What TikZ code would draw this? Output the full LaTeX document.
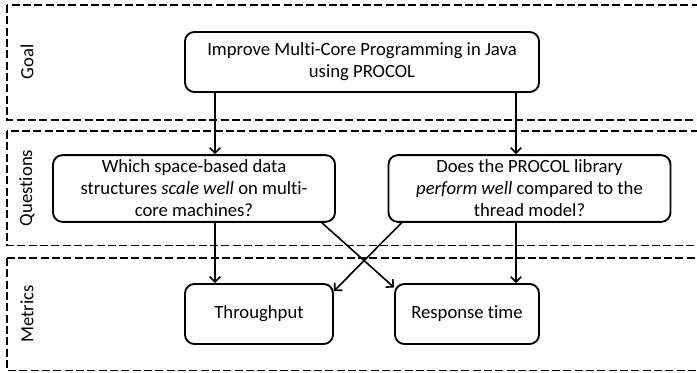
\documentclass[tikz,border=0pt]{standalone}
\usepackage{fontspec}
\setmainfont[Ligatures=NoCommon]{Carlito}
\usetikzlibrary{arrows.meta,positioning,calc}

\begin{document}
\begin{tikzpicture}[
  x=0.75pt,y=-0.75pt,
  every node/.style={font=\fontsize{14}{16.5}\selectfont},
  band/.style={draw,dashed,dash pattern=on 6pt off 2.5pt,line width=1.4pt},
  bandlabel/.style={rotate=90,anchor=center},
  gqmbox/.style={draw,rounded corners=7pt,line width=1.4pt,align=center,inner sep=3pt},
  arr/.style={-{Straight Barb[length=4pt,width=8pt]},line width=1.2pt},
]
  \clip (0,0) rectangle (697,373);

  % Bands
  \draw[band] (7,5) rectangle (720,120);
  \draw[band] (7,131) rectangle (720,245.5);
  \draw[band] (7,258) rectangle (720,370.5);
  \node[bandlabel] (goallbl) at (27,62) {Goal};
  \node[bandlabel] (qlbl) at (27,188) {Questions};
  \node[bandlabel] (mlbl) at (27,314) {Metrics};

  % Goal
  \node[gqmbox,minimum width=265.5pt,minimum height=45pt] (goal) at (362,62)
    {Improve Multi-Core Programming in Java\\using PROCOL};

  % Questions
  \node[gqmbox,minimum width=211.5pt,minimum height=50pt] (q1) at (194,188.5)
    {Which space-based data\\structures \emph{scale well} on multi-\\core machines?};
  \node[gqmbox,minimum width=211.5pt,minimum height=50pt] (q2) at (529.5,188.5)
    {Does the PROCOL library\\\emph{perform well} compared to the\\thread model?};

  % Metrics
  \node[gqmbox,minimum width=111pt,minimum height=45pt] (tp) at (259,314) {Throughput};
  \node[gqmbox,minimum width=108pt,minimum height=45pt] (rt) at (467,314) {Response time};

  % Arrows
  \coordinate (lx) at (215,0);
  \coordinate (rx) at (516,0);
  \draw[arr] (goal.south -| lx) -- (q1.north -| lx);
  \draw[arr] (goal.south -| rx) -- (q2.north -| rx);
  \draw[arr] (q1.south -| lx) -- (tp.north -| lx);
  \draw[arr] (q2.south -| rx) -- (rt.north -| rx);
  \draw[arr] (q1.-15) -- (rt.160);
  \draw[arr] (q2.195) -- (tp.17);
\end{tikzpicture}
\end{document}
